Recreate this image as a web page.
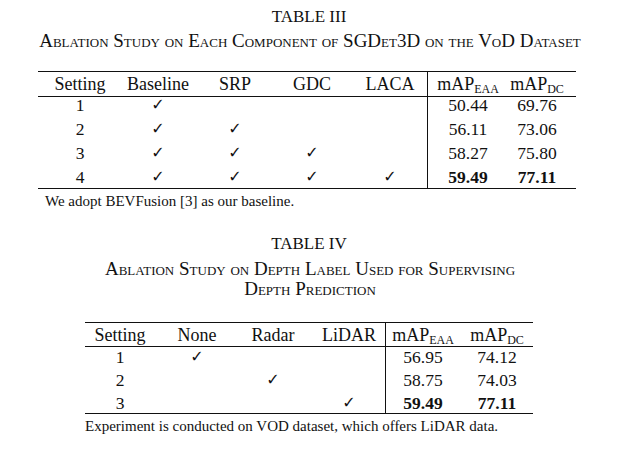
<!DOCTYPE html>
<html><head><meta charset="utf-8">
<script src="https://cdn.jsdelivr.net/npm/chart.js@4"></script>
<style>
body{margin:0;background:#fff;width:619px;height:451px;position:relative;font-family:"Liberation Serif","Times New Roman",serif;color:#111;overflow:hidden}
.t{position:absolute;white-space:nowrap;line-height:1}
.c{transform:translateX(-50%)}
.r{position:absolute;background:#111}
sub{font-size:12px;vertical-align:-3px;line-height:0}
</style></head><body>
<script>
const t3Cols=["Setting","Baseline","SRP","GDC","LACA","mAP<sub>EAA</sub>","mAP<sub>DC</sub>"];
const t3Settings=["1","2","3","4"];
const t3Checks=[[1,0,0,0],[1,1,0,0],[1,1,1,0],[1,1,1,1]];
const t3EAA=["50.44","56.11","58.27","59.49"];
const t3DC=["69.76","73.06","75.80","77.11"];
const t4Cols=["Setting","None","Radar","LiDAR","mAP<sub>EAA</sub>","mAP<sub>DC</sub>"];
const t4Settings=["1","2","3"];
const t4Checks=[[1,0,0],[0,1,0],[0,0,1]];
const t4EAA=["56.95","58.75","59.49"];
const t4DC=["74.12","74.03","77.11"];

function txt(s,x,y,size,opts={}){const d=document.createElement('div');d.className='t'+(opts.center?' c':'');d.innerHTML=s;d.style.left=x+'px';d.style.top=y+'px';d.style.fontSize=size+'px';if(opts.bold)d.style.fontWeight='bold';if(opts.sc)d.style.fontVariant='small-caps';if(opts.font)d.style.fontFamily=opts.font;document.body.appendChild(d);}
function rule(x,y,w,h){const d=document.createElement('div');d.className='r';Object.assign(d.style,{left:x+'px',top:y+'px',width:w+'px',height:h+'px'});document.body.appendChild(d);}
function table(cfg){
  const {cols,xs,settings,checks,eaa,dc,top,mid,bot,left,right,vx,rowC,note,noteX}=cfg;
  rule(left,top,right-left,1);
  cols.forEach((c,i)=>txt(c,xs[i],top+4,18,{center:true}));
  rule(left,mid,right-left,1);
  settings.forEach((s,r)=>{
    const y=rowC[r]-8;
    txt(s,xs[0],y,17.5,{center:true});
    checks[r].forEach((v,j)=>{if(v)txt("✓",xs[j+1],y,16,{center:true,font:"DejaVu Sans"});});
    const b=r===settings.length-1;
    txt(eaa[r],xs[xs.length-2],y,17.5,{center:true,bold:b});
    txt(dc[r],xs[xs.length-1],y,17.5,{center:true,bold:b});
  });
  rule(left,bot,right-left,1);
  rule(vx,top,1,bot-top);
  txt(note,noteX,bot+6,15);
}
txt("TABLE III",309,8,17,{center:true});
txt("Ablation Study on Each Component of SGDet3D on the VoD Dataset",310,31,19,{center:true,sc:true});
table({cols:t3Cols,xs:[80,158,235,312,390,468,537],settings:t3Settings,checks:t3Checks,eaa:t3EAA,dc:t3DC,top:71,mid:96,bot:188,left:38,right:576,vx:427,rowC:[105,129,153,177],note:"We adopt BEVFusion [3] as our baseline.",noteX:45});
txt("TABLE IV",309,235,17,{center:true});
txt("Ablation Study on Depth Label Used for Supervising",310,259,19,{center:true,sc:true});
txt("Depth Prediction",310,279,19,{center:true,sc:true});
table({cols:t4Cols,xs:[120,197,273,349,423,497],settings:t4Settings,checks:t4Checks,eaa:t4EAA,dc:t4DC,top:322,mid:346,bot:413,left:85,right:533,vx:385,rowC:[357,380,403],note:"Experiment is conducted on VOD dataset, which offers LiDAR data.",noteX:85});
</script>
</body></html>
